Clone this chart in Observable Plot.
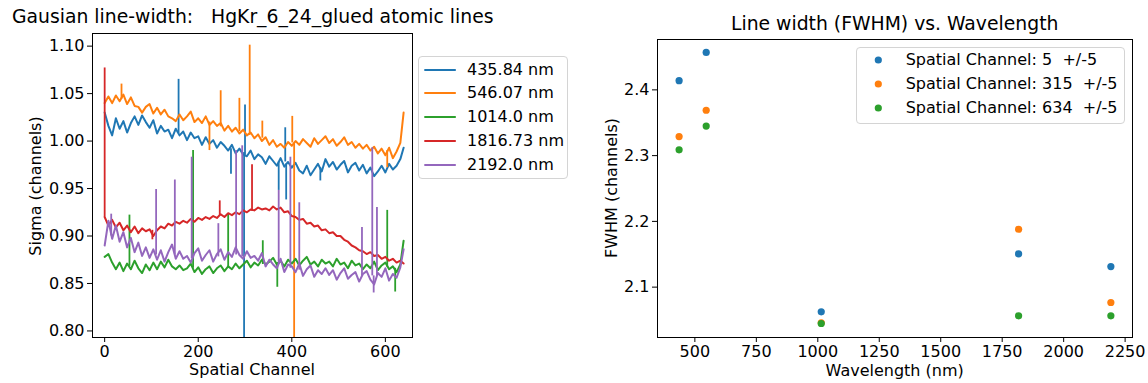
<!DOCTYPE html>
<html><head><meta charset="utf-8">
<script src="https://cdn.jsdelivr.net/npm/d3@7"></script>
<script src="https://cdn.jsdelivr.net/npm/@observablehq/plot@0.6"></script>
<style>
body{margin:0;background:#fff;}
#wrap{position:relative;width:1148px;height:383px;font-family:"DejaVu Sans",sans-serif;color:#000;overflow:hidden;}
.abs{position:absolute;white-space:pre;line-height:1;}
.legend{position:absolute;border:1px solid #d4d4d4;border-radius:4px;background:rgba(255,255,255,0.8);box-sizing:border-box;}
.row{position:absolute;height:20px;line-height:20px;white-space:pre;font-size:16px;}
.sw{position:absolute;}
</style></head><body>
<div id="wrap"></div>
<script>
// ---------- Left panel data ----------
const channels = [0,8,16,24,32,40,48,56,64,72,
  80,88,96,104,112,120,128,136,144,152,
  160,168,176,184,192,200,208,216,224,232,
  240,248,256,264,272,280,288,296,304,312,
  320,328,336,344,352,360,368,376,384,392,
  400,408,416,424,432,440,448,456,464,472,
  480,488,496,504,512,520,528,536,544,552,
  560,568,576,584,592,600,608,616,624,632,639];
const sigma435 = [1.030,1.016,1.006,1.024,1.013,1.021,1.009,1.019,1.026,1.017,
  1.027,1.020,1.014,1.022,1.008,1.016,1.010,1.012,1.003,1.013,
  1.006,1.010,1.001,1.009,1.003,1.005,0.996,1.004,0.997,1.001,
  0.993,0.999,0.995,0.990,0.996,0.987,0.992,0.986,0.984,0.990,
  0.981,0.986,0.983,0.976,0.984,0.979,0.974,0.982,0.973,0.978,
  0.972,0.977,0.969,0.966,0.974,0.964,0.970,0.976,0.968,0.981,
  0.973,0.978,0.970,0.975,0.979,0.967,0.974,0.977,0.969,0.975,
  0.966,0.972,0.963,0.968,0.974,0.967,0.976,0.970,0.974,0.981,0.993];
const sigma546 = [1.040,1.047,1.040,1.048,1.042,1.049,1.039,1.046,1.037,1.036,
  1.030,1.036,1.039,1.029,1.035,1.028,1.033,1.026,1.024,1.021,
  1.028,1.022,1.026,1.031,1.020,1.024,1.019,1.026,1.017,1.021,
  1.016,1.019,1.011,1.016,1.010,1.014,1.008,1.012,1.006,1.009,
  1.003,1.007,1.000,1.004,0.996,1.001,0.994,0.997,0.993,0.999,
  0.995,1.000,0.996,1.002,0.998,0.994,1.003,0.997,1.001,1.005,
  0.998,1.002,0.995,0.999,1.004,0.996,0.999,0.993,0.997,0.992,
  0.996,0.990,0.994,0.987,0.992,0.985,0.993,0.982,0.989,0.998,1.030];
const sigma1014 = [0.878,0.881,0.872,0.865,0.872,0.863,0.871,0.865,0.874,0.866,
  0.861,0.870,0.864,0.872,0.865,0.873,0.867,0.875,0.868,0.865,
  0.869,0.864,0.866,0.871,0.862,0.867,0.860,0.865,0.868,0.861,
  0.866,0.869,0.863,0.868,0.865,0.871,0.866,0.870,0.874,0.867,
  0.872,0.869,0.875,0.870,0.873,0.877,0.870,0.874,0.868,0.875,
  0.871,0.876,0.869,0.874,0.878,0.870,0.873,0.868,0.875,0.871,
  0.873,0.868,0.876,0.870,0.872,0.866,0.874,0.869,0.871,0.865,
  0.870,0.866,0.873,0.864,0.869,0.872,0.865,0.868,0.862,0.870,0.895];
const sigma1816 = [0.920,0.911,0.917,0.909,0.914,0.906,0.911,0.904,0.910,0.903,
  0.908,0.905,0.907,0.900,0.906,0.910,0.908,0.913,0.911,0.915,
  0.913,0.916,0.914,0.918,0.915,0.919,0.917,0.920,0.918,0.921,
  0.919,0.923,0.920,0.924,0.922,0.925,0.923,0.927,0.925,0.928,
  0.927,0.930,0.928,0.929,0.927,0.931,0.928,0.930,0.925,0.926,
  0.921,0.920,0.917,0.918,0.913,0.914,0.910,0.911,0.906,0.907,
  0.903,0.904,0.900,0.900,0.896,0.894,0.890,0.888,0.885,0.884,
  0.881,0.883,0.879,0.880,0.876,0.878,0.874,0.876,0.872,0.874,0.871];
const sigma2192 = [0.890,0.916,0.897,0.911,0.894,0.904,0.888,0.898,0.883,0.893,
  0.879,0.888,0.877,0.886,0.875,0.885,0.873,0.883,0.891,0.876,
  0.884,0.876,0.879,0.872,0.882,0.887,0.874,0.880,0.885,0.873,
  0.881,0.886,0.875,0.883,0.878,0.888,0.880,0.876,0.884,0.877,
  0.879,0.874,0.882,0.868,0.875,0.870,0.866,0.876,0.862,0.870,
  0.868,0.862,0.871,0.858,0.865,0.869,0.857,0.864,0.860,0.866,
  0.859,0.864,0.854,0.861,0.866,0.855,0.859,0.862,0.852,0.860,
  0.863,0.854,0.849,0.861,0.857,0.866,0.853,0.860,0.856,0.867,0.886];
// single-channel spikes: [channel, level, spike value]
const spikes435 = [[158,1.008,1.065],[270,0.992,0.965],[298,0.988,0.78],[300,0.985,1.038],[372,0.978,0.948],[386,0.978,1.014],[388,0.976,0.938],[461,0.972,0.958]];
const spikes546 = [[36,1.044,1.060],[224,1.020,0.990],[248,1.015,1.053],[288,1.010,1.045],[310,1.006,1.101],[337,1.003,1.021],[401,0.998,1.026],[405,0.998,0.78],[604,0.990,0.972]];
const spikes1014 = [[53,0.868,0.922],[189,0.866,0.990],[264,0.866,0.923],[338,0.870,0.895],[369,0.872,0.846],[604,0.867,0.927],[621,0.866,0.841]];
const spikes1816 = [[0,0.920,1.077],[102,0.906,0.896],[246,0.921,0.937],[315,0.926,0.975]];
const spikes2192 = [[14,0.900,0.923],[110,0.880,0.949],[150,0.880,0.959],[186,0.876,0.983],[243,0.878,0.913],[281,0.880,0.990],[294,0.878,0.995],[372,0.870,0.948],[397,0.866,0.983],[416,0.864,0.935],[550,0.858,0.909],[572,0.858,0.993],[575,0.858,0.840],[582,0.858,0.930]];
const lineNames = ["435.84 nm","546.07 nm","1014.0 nm","1816.73 nm","2192.0 nm"];
const leftXTicks = [0,200,400,600];
const leftYTicks = [0.80,0.85,0.90,0.95,1.00,1.05,1.10];

// ---------- Right panel data ----------
const wavelengths = [435.84,546.07,1014.0,1816.73,2192.0];
const fwhmCh5 = [2.414,2.457,2.0625,2.1506,2.1313];
const fwhmCh315 = [2.329,2.369,2.0457,2.188,2.0766];
const fwhmCh634 = [2.3088,2.345,2.0447,2.0564,2.0564];
const channelNames = ["Spatial Channel: 5  +/-5","Spatial Channel: 315  +/-5","Spatial Channel: 634  +/-5"];
const rightXTicks = [500,750,1000,1250,1500,1750,2000,2250];
const rightYTicks = [2.1,2.2,2.3,2.4];

const colors = ["#1f77b4","#ff7f0e","#2ca02c","#d62728","#9467bd"];
const FONT = "DejaVu Sans";
const wrap = document.getElementById("wrap");

// ---------- Left plot ----------
const leftSeries = [sigma435,sigma546,sigma1014,sigma1816,sigma2192];
const leftSpikes = [spikes435,spikes546,spikes1014,spikes1816,spikes2192];
const leftMarks = [];
leftSeries.forEach((vals,i)=>{
  const rows = channels.map((c,j)=>({c, v: vals[j]}));
  leftMarks.push(Plot.line(rows,{x:"c",y:"v",stroke:colors[i],strokeWidth:2,clip:true}));
  leftMarks.push(Plot.ruleX(leftSpikes[i].map(([c,a,b])=>({c,a,b})),{x:"c",y1:"a",y2:"b",stroke:colors[i],strokeWidth:1.8,clip:true}));
});
const leftPlot = Plot.plot({
  width:580,height:383,marginLeft:92,marginRight:168,marginTop:33,marginBottom:46,
  x:{domain:[-26,658]}, y:{domain:[0.7931,1.1133]},
  style:{fontFamily:FONT,fontSize:"16px",color:"#000",background:"transparent",overflow:"visible"},
  marks:[
    ...leftMarks,
    Plot.axisX({ticks:leftXTicks,tickFormat:"d",tickSize:5,tickPadding:3,label:null}),
    Plot.axisY({ticks:leftYTicks,tickFormat:".2f",tickSize:5,tickPadding:3,label:null}),
    Plot.frame({stroke:"#000",strokeWidth:1})
  ]
});
leftPlot.style.position="absolute"; leftPlot.style.left="0px"; leftPlot.style.top="0px";
wrap.appendChild(leftPlot);

// ---------- Right plot ----------
const rightSeries = [fwhmCh5,fwhmCh315,fwhmCh634];
const rightMarks = rightSeries.map((vals,i)=>Plot.dot(wavelengths.map((w,j)=>({w,f:vals[j]})),{x:"w",y:"f",fill:colors[i],r:3.6}));
const rightPlot = Plot.plot({
  width:568,height:383,marginLeft:77,marginRight:16,marginTop:39,marginBottom:46,
  x:{domain:[348,2280]}, y:{domain:[2.0234,2.4766]},
  style:{fontFamily:FONT,fontSize:"16px",color:"#000",background:"transparent",overflow:"visible"},
  marks:[
    ...rightMarks,
    Plot.axisX({ticks:rightXTicks,tickFormat:"d",tickSize:5,tickPadding:3,label:null}),
    Plot.axisY({ticks:rightYTicks,tickFormat:".1f",tickSize:5,tickPadding:3,label:null}),
    Plot.frame({stroke:"#000",strokeWidth:1})
  ]
});
rightPlot.style.position="absolute"; rightPlot.style.left="580px"; rightPlot.style.top="0px";
wrap.appendChild(rightPlot);

// ---------- Text overlays ----------
function text(str, x, baseline, fs, anchor){
  const d=document.createElement("div");
  d.className="abs"; d.textContent=str; d.style.fontSize=fs+"px";
  d.style.top=(baseline-0.846*fs)+"px";
  d.style.left=x+"px";
  if(anchor==="middle") d.style.transform="translateX(-50%)";
  wrap.appendChild(d); return d;
}
function vtext(str, cx, cy, fs){
  const d=document.createElement("div");
  d.className="abs"; d.textContent=str; d.style.fontSize=fs+"px";
  d.style.left=cx+"px"; d.style.top=cy+"px";
  d.style.transform="translate(-50%,-50%) rotate(-90deg)";
  wrap.appendChild(d); return d;
}
text("Gausian line-width:   HgKr_6_24_glued atomic lines", 12, 24, 18.8);
text("Line width (FWHM) vs. Wavelength", 894.7, 31, 18.8, "middle");
text("Spatial Channel", 252, 376, 16, "middle");
text("Wavelength (nm)", 894.7, 377, 16, "middle");
vtext("Sigma (channels)", 36, 186, 16);
vtext("FWHM (channels)", 612, 188, 16);

// ---------- Legends ----------
function legend(x,y,w,h,names,rowCenters,swatch,textX){
  const box=document.createElement("div");
  box.className="legend";
  Object.assign(box.style,{left:x+"px",top:y+"px",width:w+"px",height:h+"px"});
  names.forEach((n,i)=>{
    const cy=rowCenters[i];
    const s=document.createElementNS("http://www.w3.org/2000/svg","svg");
    s.setAttribute("class","sw");
    s.setAttribute("width","40"); s.setAttribute("height","12");
    s.style.left="4px"; s.style.top=(cy-6)+"px";
    s.innerHTML=swatch(colors[i]);
    box.appendChild(s);
    const r=document.createElement("div");
    r.className="row"; r.textContent=n;
    r.style.left=textX+"px"; r.style.top=(cy-10)+"px";
    box.appendChild(r);
  });
  wrap.appendChild(box);
}
legend(418,56,150,123,lineNames,[12.5,36.2,59.8,83.5,107.5],
  c=>`<line x1="1.3" x2="32.8" y1="6" y2="6" stroke="${c}" stroke-width="2"/>`,48);
legend(855.7,46.7,269,77.3,channelNames,[12.8,36.8,60.8],
  c=>`<circle cx="17.3" cy="6" r="3.6" fill="${c}"/>`,49);
</script></body></html>
